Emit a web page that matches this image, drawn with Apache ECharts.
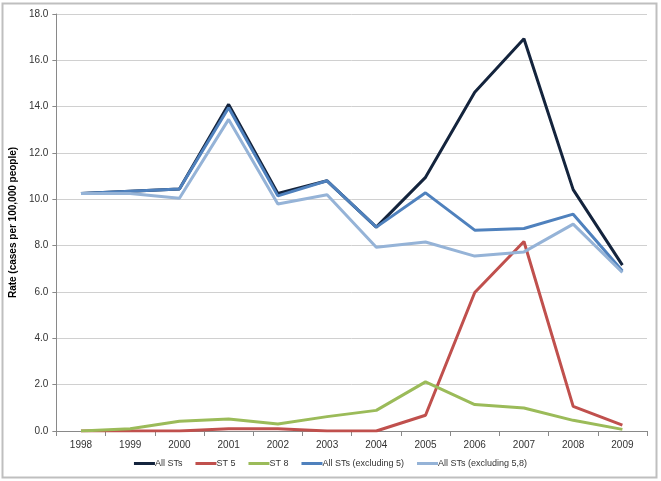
<!DOCTYPE html>
<html><head><meta charset="utf-8">
<script src="https://cdn.jsdelivr.net/npm/echarts@6/dist/echarts.min.js"></script>
<style>html,body{margin:0;padding:0;background:#fff}#c{width:661px;height:481px}</style>
</head><body><div id="c"></div>
<script>
var years = ['1998','1999','2000','2001','2002','2003','2004','2005','2006','2007','2008','2009'];
var allSTs = [10.25, 10.35, 10.45, 14.1, 10.25, 10.8, 8.8, 10.95, 14.62, 16.93, 10.42, 7.16];
var st5 = [0, 0, 0, 0.1, 0.1, 0, 0, 0.68, 5.98, 8.18, 1.06, 0.25];
var st8 = [0, 0.1, 0.42, 0.52, 0.3, 0.62, 0.89, 2.12, 1.14, 0.99, 0.46, 0.07];
var excl5 = [10.25, 10.35, 10.45, 13.95, 10.15, 10.8, 8.8, 10.28, 8.67, 8.74, 9.36, 6.91];
var excl58 = [10.25, 10.25, 10.05, 13.45, 9.8, 10.2, 7.93, 8.16, 7.55, 7.73, 8.93, 6.84];
var yTicks = [0, 2, 4, 6, 8, 10, 12, 14, 16, 18];

var names = ['All STs','ST 5','ST 8','All STs (excluding 5)','All STs (excluding 5,8)'];
var colors = ['#14243d','#c0504d','#9bbb59','#4f81bd','#95b3d7'];
var datas = [allSTs, st5, st8, excl5, excl58];
var font = 'Liberation Sans';
var chart = echarts.init(document.getElementById('c'));
chart.setOption({
  animation: false,
  graphic: [{type:'rect', shape:{x:2.5,y:3.5,width:654,height:474}, style:{fill:'none', stroke:'#bfbfbf', lineWidth:2}}],
  grid: {left:56, right:14, top:14, bottom:50, containLabel:false},
  legend: {
    bottom: 8, left: 'center', itemWidth: 21, itemHeight: 3, itemGap: 13,
    icon: 'rect',
    textStyle: {fontFamily: font, fontSize: 9, color: '#333', padding:[0,0,0,-5]},
    data: names
  },
  xAxis: {
    type: 'category', data: years, boundaryGap: true,
    axisLine: {lineStyle: {color: '#898989'}},
    axisTick: {show: true, alignWithLabel: false, length: 5, lineStyle: {color: '#898989'}},
    axisLabel: {fontFamily: font, fontSize: 10, color: '#333', margin: 9}
  },
  yAxis: {
    type: 'value', min: yTicks[0], max: yTicks[yTicks.length-1], interval: 2,
    name: 'Rate (cases per 100,000 people)', nameLocation: 'middle', nameGap: 33,
    nameTextStyle: {fontFamily: font, fontSize: 10, fontWeight: 'bold', color: '#000'},
    axisLine: {show: true, lineStyle: {color: '#898989'}},
    axisTick: {show: true, length: 4, lineStyle: {color: '#898989'}},
    axisLabel: {fontFamily: font, fontSize: 10, color: '#333', formatter: function(v){return v.toFixed(1);}},
    splitLine: {lineStyle: {color: '#d0d0d0'}}
  },
  series: names.map(function(n, i){
    return {name: n, type: 'line', data: datas[i], symbol: 'none',
      lineStyle: {width: 3, color: colors[i]}, itemStyle: {color: colors[i]}};
  })
});
</script></body></html>
